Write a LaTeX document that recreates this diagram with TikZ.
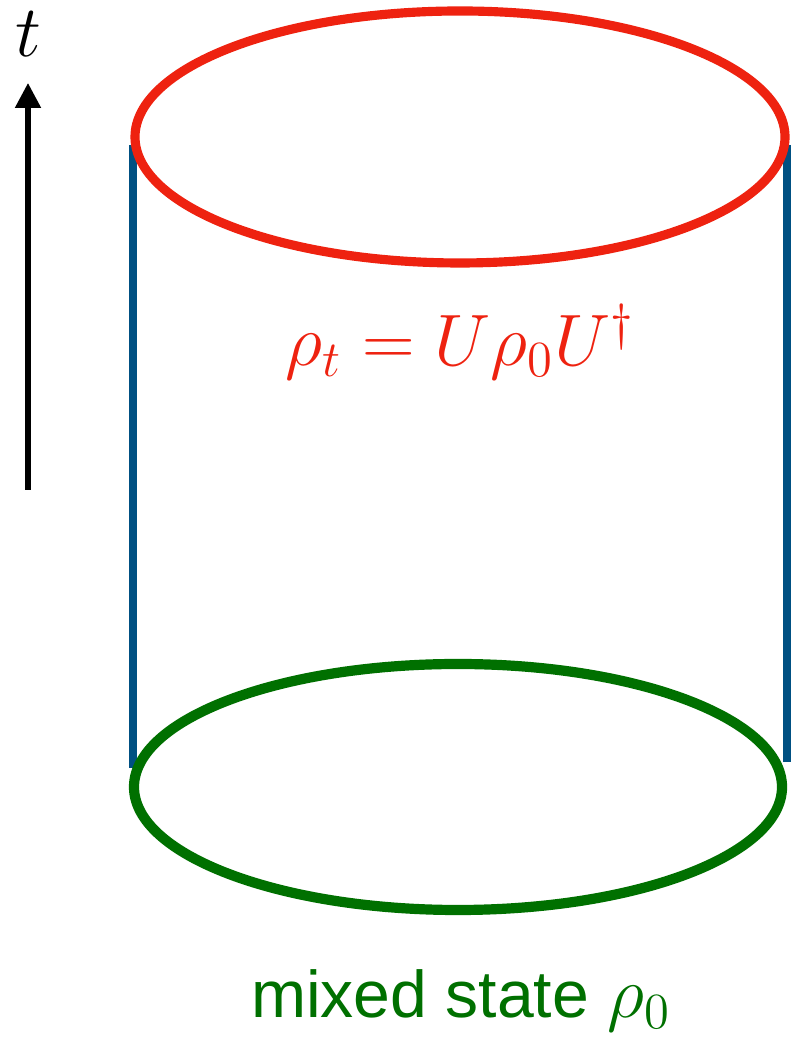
\documentclass[tikz,border=0pt]{standalone}
\usepackage{fontspec}
\usepackage{amsmath}
\newfontfamily\labelfont{Liberation Sans}
\usetikzlibrary{arrows.meta}
\definecolor{rimred}{RGB}{238,34,16}
\definecolor{rimgreen}{RGB}{0,112,0}
\definecolor{wallblue}{RGB}{0,80,130}

\begin{document}
\begin{tikzpicture}[x=0.01cm,y=0.01cm]
\useasboundingbox (0,0) rectangle (790,1040);
% side walls
\draw[wallblue,line width=2.3pt]
	   (133,895) coordinate (lt) -- (133,272) coordinate (lb);
\draw[wallblue,line width=2.3pt]
	   (787,895) coordinate (rt) -- (787,278) coordinate (rb);
% rims
\draw[rimred,line width=2.6pt] (460,903) ellipse (325 and 126);
\draw[rimgreen,line width=2.9pt] (458,253) ellipse (324 and 123);
% time axis
\coordinate (tfoot) at (28,550);
\coordinate (ttip) at (28,957);
\draw[line width=1.45pt,-{Triangle[width=0.25cm,length=0.25cm]}] (tfoot) -- (ttip);
\node[anchor = base] (tlab) at (28,983) {\fontsize{20}{24}\selectfont $t$};
\node[anchor = base,text=rimred] (evol) at (460,674)
	{\fontsize{21.5}{26}\selectfont $\rho_t = U\rho_0U^\dagger$};
\node[anchor = base,text=rimgreen] (mixed) at (461,22)
	{\fontsize{18.8}{22}\selectfont\labelfont mixed state {\fontsize{22}{26}\selectfont$\rho_0$}};
\end{tikzpicture}
\end{document}
